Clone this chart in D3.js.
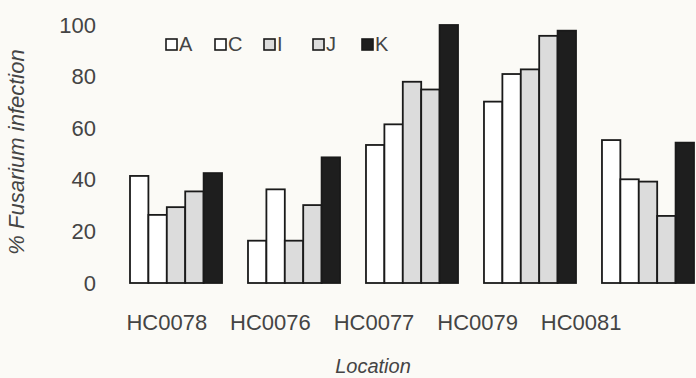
<!DOCTYPE html>
<html>
<head>
<meta charset="utf-8">
<script src="https://cdn.jsdelivr.net/npm/d3@7"></script>
<style>
  html, body { margin: 0; padding: 0; background: #fbfaf6; }
  text { font-family: "Liberation Sans", Arial, sans-serif; fill: #444; }
</style>
</head>
<body>
<div id="chart"></div>
<script>
'use strict';

// data
const locations = ['HC0078', 'HC0076', 'HC0077', 'HC0079', 'HC0081'];
const series = ['A', 'C', 'I', 'J', 'K'];
const valuesA = [41.5, 16.4, 53.5, 70.3, 55.4];
const valuesC = [26.4, 36.3, 61.5, 81, 40.2];
const valuesI = [29.4, 16.4, 78, 82.8, 39.3];
const valuesJ = [35.5, 30.2, 75, 95.8, 26];
const valuesK = [42.6, 48.7, 100, 97.8, 54.4];
const yTicks = [0, 20, 40, 60, 80, 100];

const colors = { A: '#ffffff', C: '#ffffff', I: '#dcdcdc', J: '#dcdcdc', K: '#1e1e1e' };

const rows = locations.map((loc, i) => ({
  loc,
  vals: [valuesA[i], valuesC[i], valuesI[i], valuesJ[i], valuesK[i]]
}));

drawChart('#chart');

function drawChart(el) {
  const width = 696;
  const height = 378;

  const svg = d3.select(el)
    .append('svg')
    .attr('width', width)
    .attr('height', height);

  const y = d3.scaleLinear()
    .domain([0, 100])
    .range([283, 25]);

  // groups of bars
  const x0 = d3.scaleBand()
    .domain(locations)
    .range([130, 694])
    .paddingInner(0.22)
    .paddingOuter(0);

  const x1 = d3.scaleBand()
    .domain(series)
    .range([0, x0.bandwidth()]);

  // category labels sit a bit off the bars in the original
  const xLabel = d3.scaleBand()
    .domain(locations)
    .range([115, 633]);

  const groups = svg.selectAll('g.group')
    .data(rows)
    .enter()
    .append('g')
    .attr('class', 'group')
    .attr('transform', d => `translate(${x0(d.loc)},0)`);

  groups.selectAll('rect')
    .data(d => d.vals.map((v, i) => ({ key: series[i], v })))
    .enter()
    .append('rect')
    .attr('x', d => x1(d.key))
    .attr('y', d => y(d.v))
    .attr('width', x1.bandwidth())
    .attr('height', d => y(0) - y(d.v))
    .attr('fill', d => colors[d.key])
    .attr('stroke', '#1a1a1a')
    .attr('stroke-width', 1.8);

  // y axis (labels only)
  const yAxis = d3.axisLeft(y).tickValues(yTicks).tickSize(0).tickPadding(0);
  const gy = svg.append('g')
    .attr('transform', 'translate(96,0)')
    .call(yAxis);
  gy.select('.domain').remove();
  gy.selectAll('text')
    .style('font-size', '22px')
    .style('font-family', '"Liberation Sans", Arial, sans-serif')
    .attr('fill', '#474747');

  // x axis labels
  const xAxis = d3.axisBottom(xLabel).tickSize(0).tickPadding(0);
  const gx = svg.append('g')
    .attr('transform', 'translate(0,314)')
    .call(xAxis);
  gx.select('.domain').remove();
  gx.selectAll('text')
    .style('font-size', '22px')
    .style('font-family', '"Liberation Sans", Arial, sans-serif')
    .attr('fill', '#474747');

  // axis titles
  svg.append('text')
    .attr('x', 373)
    .attr('y', 373)
    .attr('text-anchor', 'middle')
    .style('font-size', '20px')
    .style('font-style', 'italic')
    .text('Location');

  svg.append('text')
    .attr('transform', 'translate(24,152) rotate(-90)')
    .attr('text-anchor', 'middle')
    .style('font-size', '22px')
    .style('font-style', 'italic')
    .text('% Fusarium infection');

  // legend
  const legend = svg.append('g')
    .attr('transform', 'translate(166,39)');

  const item = legend.selectAll('g')
    .data(series)
    .enter()
    .append('g')
    .attr('transform', (d, i) => `translate(${i * 49},0)`);

  item.append('rect')
    .attr('width', 11)
    .attr('height', 11)
    .attr('fill', d => colors[d])
    .attr('stroke', '#1a1a1a')
    .attr('stroke-width', 1.6);

  item.append('text')
    .attr('x', 13)
    .attr('y', 12)
    .style('font-size', '20px')
    .text(d => d);
}
</script>
</body>
</html>
